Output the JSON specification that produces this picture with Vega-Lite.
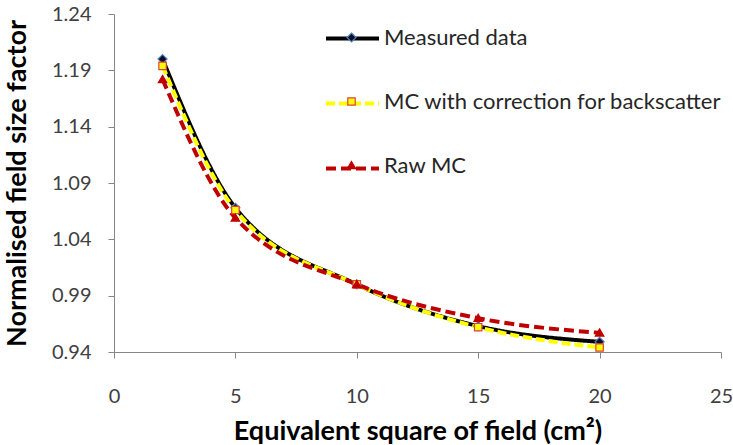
{
  "$schema": "https://vega.github.io/schema/vega-lite/v6.json",
  "width": 607,
  "height": 338,
  "autosize": "none",
  "padding": {"left": 114, "top": 14, "right": 12, "bottom": 93},
  "background": "white",
  "config": {
    "view": {"stroke": null},
    "font": "Lato",
    "axis": {
      "grid": false,
      "domainColor": "#868686",
      "domainWidth": 1,
      "tickColor": "#868686",
      "tickSize": 6,
      "labelFont": "Lato",
      "labelFontSize": 20,
      "labelColor": "#404040",
      "titleFont": "Lato",
      "titleFontSize": 27,
      "titleFontWeight": "bold",
      "titleColor": "#000000"
    }
  },
  "data": {
    "values": [
      {"series": "Measured data", "order": 1, "x": 2, "y": 1.200},
      {"series": "Measured data", "order": 1, "x": 5, "y": 1.068},
      {"series": "Measured data", "order": 1, "x": 10, "y": 1.000},
      {"series": "Measured data", "order": 1, "x": 15, "y": 0.963},
      {"series": "Measured data", "order": 1, "x": 20, "y": 0.949},
      {"series": "MC with correction for backscatter", "order": 2, "x": 2, "y": 1.194},
      {"series": "MC with correction for backscatter", "order": 2, "x": 5, "y": 1.066},
      {"series": "MC with correction for backscatter", "order": 2, "x": 10, "y": 1.000},
      {"series": "MC with correction for backscatter", "order": 2, "x": 15, "y": 0.962},
      {"series": "MC with correction for backscatter", "order": 2, "x": 20, "y": 0.944},
      {"series": "Raw MC", "order": 3, "x": 2, "y": 1.182},
      {"series": "Raw MC", "order": 3, "x": 5, "y": 1.059},
      {"series": "Raw MC", "order": 3, "x": 10, "y": 1.000},
      {"series": "Raw MC", "order": 3, "x": 15, "y": 0.970},
      {"series": "Raw MC", "order": 3, "x": 20, "y": 0.957}
    ]
  },
  "encoding": {
    "x": {
      "field": "x",
      "type": "quantitative",
      "scale": {"domain": [0, 25], "nice": false, "zero": false},
      "axis": {
        "title": "Equivalent square of field (cm²)",
        "values": [0, 5, 10, 15, 20, 25],
        "labelPadding": 28,
        "titlePadding": 12,
        "labelFlush": false
      }
    },
    "y": {
      "field": "y",
      "type": "quantitative",
      "scale": {"domain": [0.94, 1.24], "nice": false, "zero": false},
      "axis": {
        "title": "Normalised field size factor",
        "values": [0.94, 0.99, 1.04, 1.09, 1.14, 1.19, 1.24],
        "format": ".2f",
        "labelPadding": 17,
        "titlePadding": 20,
        "labelFlush": false
      }
    }
  },
  "layer": [
    {
      "mark": {"type": "line", "interpolate": "monotone", "strokeWidth": 4, "strokeCap": "butt"},
      "encoding": {
        "color": {
          "field": "series",
          "type": "nominal",
          "scale": {
            "domain": ["Measured data", "MC with correction for backscatter", "Raw MC"],
            "range": ["#000000", "#ffff00", "#c00000"]
          },
          "legend": {
            "orient": "none",
            "legendX": 210,
            "legendY": -4,
            "title": null,
            "padding": 0,
            "symbolType": "M-1,0H1",
            "symbolSize": 2809,
            "symbolStrokeWidth": 4,
            "rowPadding": 25,
            "labelOffset": 5,
            "labelFont": "Lato",
            "labelFontSize": 22,
            "labelLimit": 400,
            "labelOpacity": 0
          }
        },
        "strokeDash": {
          "field": "series",
          "type": "nominal",
          "scale": {
            "domain": ["Measured data", "MC with correction for backscatter", "Raw MC"],
            "range": [[1, 0], [9, 4], [10, 5]]
          }
        }
      }
    },
    {
      "mark": {"type": "point", "filled": true, "opacity": 1, "size": 2809, "strokeWidth": 1.2},
      "encoding": {
        "shape": {
          "field": "series",
          "type": "nominal",
          "sort": {"field": "order", "op": "min"},
          "scale": {
            "range": [
              "M0,-0.17L0.17,0L0,0.17L-0.17,0Z",
              "M-0.14,-0.14H0.14V0.14H-0.14Z",
              "M0,-0.15L0.16,0.12H-0.16Z"
            ]
          },
          "legend": {
            "orient": "none",
            "legendX": 210,
            "legendY": -4,
            "title": null,
            "padding": 0,
            "symbolSize": 2809,
            "symbolStrokeWidth": 1.2,
            "rowPadding": 25,
            "labelOffset": 5,
            "labelFont": "Lato",
            "labelFontSize": 22,
            "labelColor": "#262626",
            "labelLimit": 400
          }
        },
        "fill": {
          "field": "series",
          "type": "nominal",
          "sort": {"field": "order", "op": "min"},
          "scale": {"range": ["#0d0d26", "#ffff00", "#c00000"]}
        },
        "stroke": {
          "field": "series",
          "type": "nominal",
          "sort": {"field": "order", "op": "min"},
          "scale": {"range": ["#4f81bd", "#e0403a", "#c00000"]}
        }
      }
    }
  ]
}
